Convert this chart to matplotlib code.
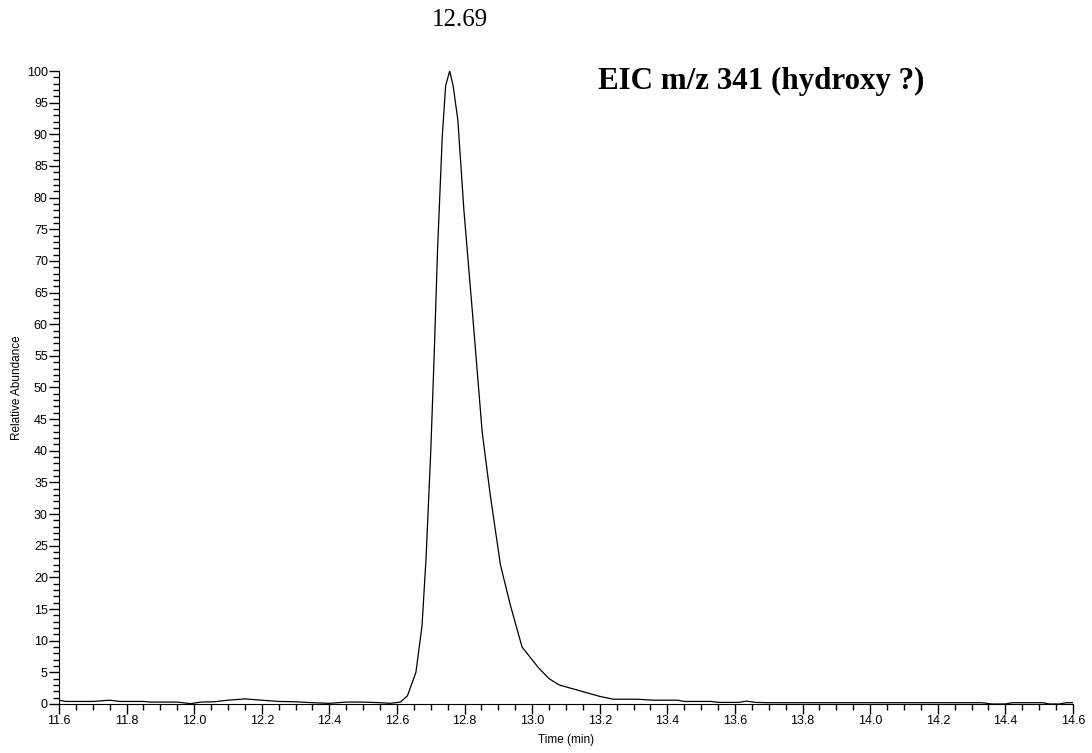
"""
Extracted ion chromatogram, m/z 341.
"""

import matplotlib
matplotlib.use("Agg")
import matplotlib.pyplot as plt
from matplotlib.ticker import MultipleLocator, FormatStrFormatter

# retention time (min) and relative abundance (%)
time_min = [
    11.60, 11.62, 11.70, 11.75, 11.78, 11.85, 11.87, 11.95, 11.99, 12.02,
    12.06, 12.10, 12.15, 12.20, 12.25, 12.30, 12.35, 12.40, 12.45, 12.50,
    12.55, 12.58, 12.61, 12.631, 12.656, 12.674, 12.686, 12.700, 12.710, 12.720,
    12.734, 12.744, 12.756, 12.766, 12.780, 12.798, 12.823, 12.852, 12.876, 12.906,
    12.935, 12.970, 13.019, 13.05, 13.08, 13.12, 13.16, 13.20, 13.24, 13.31,
    13.36, 13.43, 13.45, 13.53, 13.55, 13.61, 13.635, 13.66, 13.70, 14.33,
    14.36, 14.40, 14.42, 14.51, 14.53, 14.56, 14.58, 14.60,
]
abundance = [
    0.6, 0.4, 0.4, 0.6, 0.4, 0.4, 0.3, 0.3, 0.05, 0.3,
    0.35, 0.6, 0.8, 0.6, 0.4, 0.35, 0.2, 0.1, 0.3, 0.3,
    0.2, 0.1, 0.3, 1.3, 5.0, 12.3, 23.0, 40.0, 55.0, 71.7,
    89.7, 97.7, 100.0, 97.7, 92.3, 78.0, 62.0, 43.0, 33.0, 22.0,
    15.7, 9.0, 5.7, 4.0, 3.0, 2.4, 1.8, 1.2, 0.75, 0.75,
    0.6, 0.6, 0.4, 0.4, 0.25, 0.25, 0.45, 0.25, 0.2, 0.2,
    0.0, 0.0, 0.2, 0.2, 0.0, 0.0, 0.2, 0.2,
]

peak_label = "12.69"
title = "EIC m/z 341 (hydroxy ?)"

plt.rcParams["font.family"] = ["Liberation Sans", "DejaVu Sans"]

fig = plt.figure(figsize=(10.92, 7.53), dpi=100)
ax = fig.add_axes([0.054, 0.0651, 0.9286, 0.8406])

ax.plot(time_min, abundance, color="black", linewidth=0.9)

ax.set_xlim(11.6, 14.6)
ax.set_ylim(0, 100)

for side in ("top", "right"):
    ax.spines[side].set_visible(False)

ax.xaxis.set_major_locator(MultipleLocator(0.2))
ax.xaxis.set_minor_locator(MultipleLocator(0.05))
ax.xaxis.set_major_formatter(FormatStrFormatter("%.1f"))
ax.yaxis.set_major_locator(MultipleLocator(5))
ax.yaxis.set_minor_locator(MultipleLocator(1))

ax.tick_params(axis="both", which="major", length=7, width=1.0,
               labelsize=9, direction="out", pad=1)
ax.tick_params(axis="both", which="minor", length=4.3, width=1.0, direction="out")

ax.set_xlabel("Time (min)", fontsize=8.5, labelpad=5)
ax.set_ylabel("Relative Abundance", fontsize=8.5, labelpad=3)

# peak apex label above the plot, nudged right like the original
apex = abundance.index(max(abundance))
ax.annotate(peak_label, xy=(time_min[apex], 1.0), xycoords=ax.get_xaxis_transform(),
            xytext=(7, 37), textcoords="offset points",
            ha="center", va="center", fontsize=18, family="Liberation Serif")

ax.text(0.5316, 0.983, title, transform=ax.transAxes, ha="left", va="center",
        fontsize=22.3, fontweight="bold", family="Liberation Serif")

fig.savefig("out.png", dpi=100)
